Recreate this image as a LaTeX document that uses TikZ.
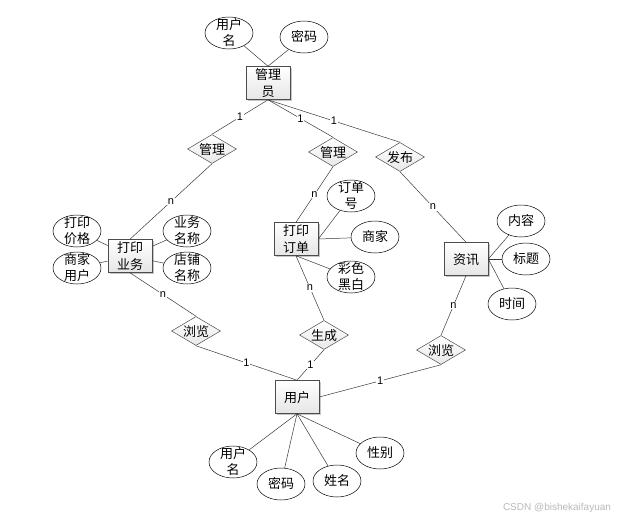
\documentclass[tikz,border=0pt]{standalone}
\usepackage{fontspec}
\newfontfamily\cjk{Noto Sans CJK SC}
\newfontfamily\lat{Liberation Sans}
\usetikzlibrary{shapes.geometric,shadows}
\newcommand\tx[1]{\makebox[0pt]{\raisebox{-4.6pt}[0pt][0pt]{\begin{tabular}{@{}c@{}}#1\end{tabular}}}}
\begin{document}
\begin{tikzpicture}[x=1pt,y=-1pt,
 ent/.style={draw=gray!60!black, line width=0.6pt, top color=white, bottom color=gray!20,
   minimum width=44pt, minimum height=33pt, inner sep=0pt, font=\cjk\fontsize{13}{17}\selectfont,
   drop shadow={shadow xshift=1.5pt, shadow yshift=-1.5pt, fill=gray!45, opacity=1}},
 rel/.style={diamond, draw=gray!60!black, line width=0.5pt, top color=white, bottom color=gray!18,
   minimum width=49pt, minimum height=29pt, inner sep=0pt, font=\cjk\fontsize{13}{17}\selectfont},
 att/.style={ellipse, draw=black, line width=0.5pt, fill=white, minimum width=48pt, minimum height=32pt,
   inner sep=0pt, font=\cjk\fontsize{13}{16}\selectfont},
 ln/.style={draw=gray!45!black, line width=0.5pt},
 card/.style={font=\lat\fontsize{11}{11}\selectfont, fill=white, inner sep=0.6pt}
]
\useasboundingbox (0,0) rectangle (622,520);
% entities
\node[ent] (gly) at (268,83) {\tx{管理\\员}};
\node[ent] (dy) at (130,256) {\tx{打印\\业务}};
\node[ent] (dd) at (296,239) {\tx{打印\\订单}};
\node[ent] (zx) at (466,259) {\tx{资讯}};
\node[ent] (yh) at (297,397) {\tx{用户}};
% relations
\node[rel] (r1) at (212,149) {\tx{管理}};
\node[rel] (r2) at (333,152) {\tx{管理}};
\node[rel] (r3) at (400,157) {\tx{发布}};
\node[rel] (r4) at (196,331) {\tx{浏览}};
\node[rel] (r5) at (324,335) {\tx{生成}};
\node[rel] (r6) at (441,350) {\tx{浏览}};
% attributes
\node[att] (gu) at (229,33) {\tx{用户\\名}};
\node[att] (gm) at (304,37) {\tx{密码}};
\node[att] (a1) at (77,231) {\tx{打印\\价格}};
\node[att] (a2) at (77,268) {\tx{商家\\用户}};
\node[att] (a3) at (187,231) {\tx{业务\\名称}};
\node[att] (a4) at (187,268) {\tx{店铺\\名称}};
\node[att] (b1) at (351,196) {\tx{订单\\号}};
\node[att] (b2) at (375,237) {\tx{商家}};
\node[att] (b3) at (351,277) {\tx{彩色\\黑白}};
\node[att] (c1) at (521,221) {\tx{内容}};
\node[att] (c2) at (526,259) {\tx{标题}};
\node[att] (c3) at (512,304) {\tx{时间}};
\node[att] (d1) at (233,462) {\tx{用户\\名}};
\node[att] (d2) at (281,484) {\tx{密码}};
\node[att] (d3) at (337,481) {\tx{姓名}};
\node[att] (d4) at (380,453) {\tx{性别}};
% attribute lines
\draw[ln] (gu) -- (gly.north);
\draw[ln] (gm) -- (gly.north);
\draw[ln] (a1) -- (dy);
\draw[ln] (a2) -- (dy);
\draw[ln] (a3) -- (dy);
\draw[ln] (a4) -- (dy);
\draw[ln] (b1) -- (dd.east);
\draw[ln] (b2) -- (dd.east);
\draw[ln] (b3) -- (dd.south);
\draw[ln] (c1) -- (zx.east);
\draw[ln] (c2) -- (zx.east);
\draw[ln] (c3) -- (zx.east);
\draw[ln] (d1) -- (yh.south);
\draw[ln] (d2) -- (yh.south);
\draw[ln] (d3) -- (yh.south);
\draw[ln] (d4) -- (yh.south);
% relationship lines
\draw[ln] (gly.south) -- node[card]{1} (r1.north);
\draw[ln] (gly.south) -- node[card]{1} (r2.north);
\draw[ln] (gly.south) -- node[card]{1} (r3.north);
\draw[ln] (r1.south) -- node[card]{n} (dy.north);
\draw[ln] (dy.south) -- node[card]{n} (r4.north);
\draw[ln] (r4.south) -- node[card]{1} (yh.north);
\draw[ln] (r2.south) -- node[card]{n} (dd.north);
\draw[ln] (dd.south) -- node[card]{n} (r5.north);
\draw[ln] (r5.south) -- node[card]{1} (yh.north);
\draw[ln] (r3.south) -- node[card]{n} (zx.north);
\draw[ln] (zx.south) -- node[card]{n} (r6.north);
\draw[ln] (r6.south) -- node[card]{1} (yh.east);
% watermark
\node[font=\lat\fontsize{10}{10}\selectfont, text=gray!55, inner sep=0pt] (wm) at (557,508) {CSDN @bishekaifayuan};
\end{tikzpicture}
\end{document}
